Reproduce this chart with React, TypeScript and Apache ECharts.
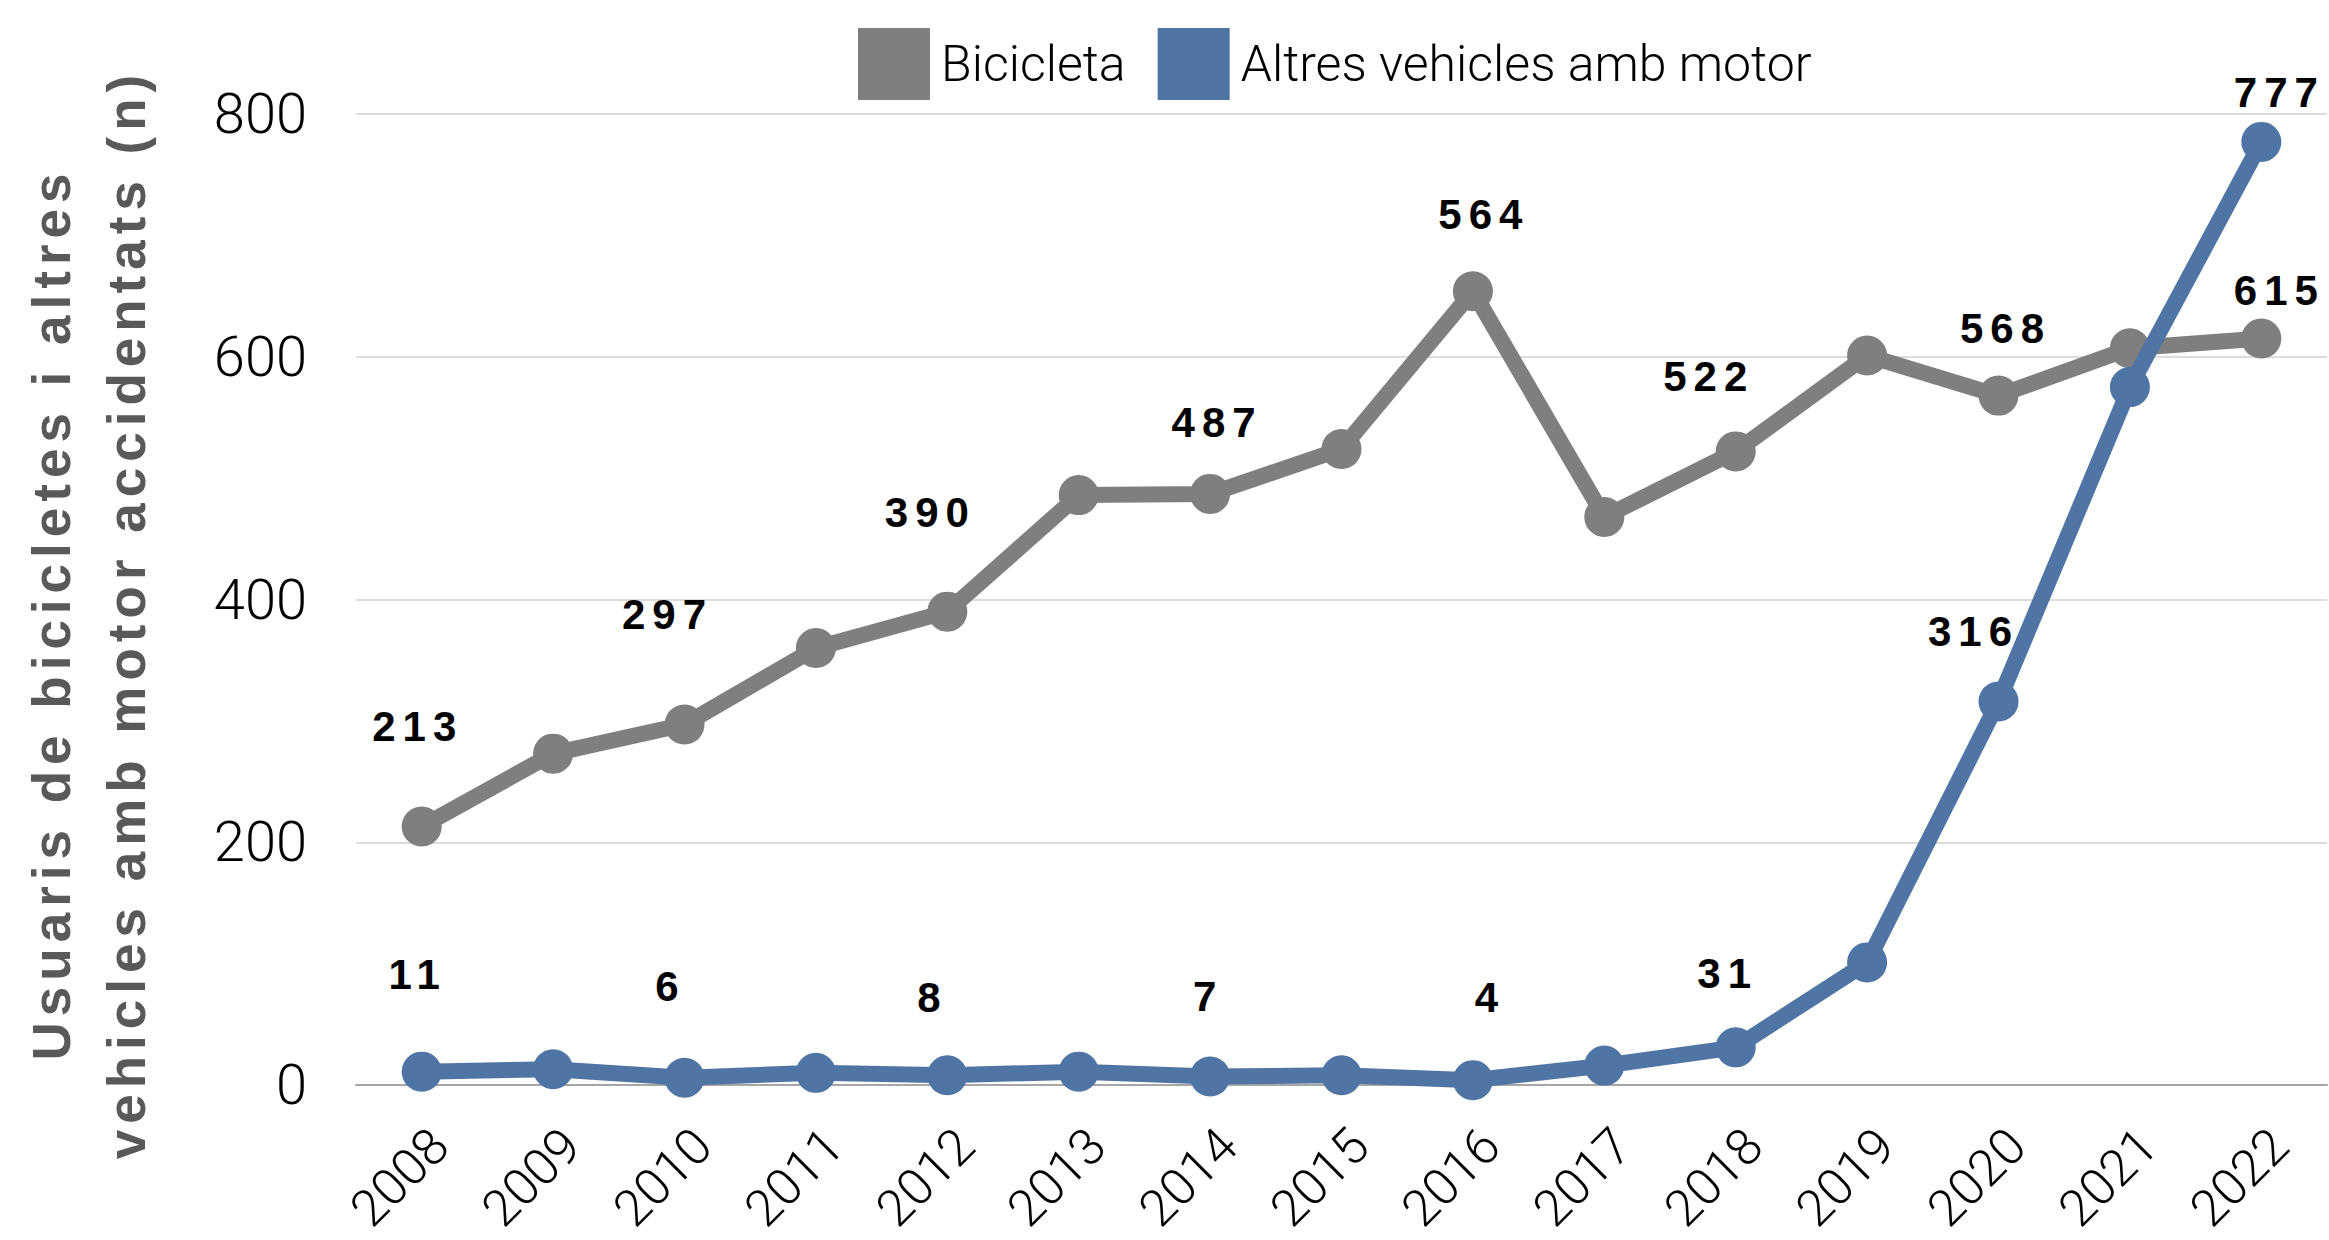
import React, { useEffect, useRef } from "react";
import * as echarts from "echarts";

const years = ["2008", "2009", "2010", "2011", "2012", "2013", "2014", "2015", "2016", "2017", "2018", "2019", "2020", "2021", "2022"];
const bicicleta = [213, 273, 297, 360, 390, 486, 487, 524, 654, 468, 522, 601, 568, 607, 615];
const altres = [11, 13, 6, 10, 8, 11, 7, 8, 4, 16, 31, 101, 316, 575, 777];
const bicicletaLabels = ["213", "", "297", "", "390", "", "487", "", "564", "", "522", "", "568", "", "615"];
const altresLabels = ["11", "", "6", "", "8", "", "7", "", "4", "", "31", "", "316", "", "777"];
const yMin = 0;
const yMax = 800;
const yInterval = 200;

// label placement (style, not data)
const bicOffsets: (number[] | null)[] = [[-4, -100], null, [-17, -110], null, [-17, -99], null, [7, -71], null, [11, -77], null, [-27, -75], null, [7, -67], null, [18, -48]];
const altOffsets: (number[] | null)[] = [[-4, -97], null, [-14, -91], null, [-15, -78], null, [-2, -80], null, [17, -83], null, [-8, -74], null, [-25, -70], null, [18, -49]];

const GRAY = "#7f7f7f";
const BLUE = "#4f75a5";
const THIN = "Roboto, 'Open Sans', sans-serif";
const BOLD = "'Liberation Sans', Arial, sans-serif";

function buildData(values: number[], labels: string[], offsets: (number[] | null)[]) {
  return values.map((v, i) => {
    const txt = labels[i];
    if (!txt) return { value: v, label: { show: false } };
    return {
      value: v,
      label: {
        show: true,
        position: "inside",
        offset: offsets[i] || [0, -60],
        formatter: txt,
        color: "#000",
        fontFamily: BOLD,
        fontWeight: "bold",
        fontSize: 42,
      },
    };
  });
}

export default function App() {
  const ref = useRef<HTMLDivElement>(null);
  useEffect(() => {
    if (!ref.current) return;
    const chart = echarts.init(ref.current, undefined, { renderer: "svg" });
    chart.setOption({
      animation: false,
      backgroundColor: "#fff",
      legend: {
        left: 853,
        top: 23,
        itemWidth: 72,
        itemHeight: 72,
        itemGap: 32,
        icon: "rect",
        textStyle: { fontFamily: THIN, fontWeight: 300, fontSize: 50, color: "#000", padding: [0, 0, 0, 6] },
        data: ["Bicicleta", "Altres vehicles amb motor"],
      },
      grid: { left: 356, right: 2, top: 114, bottom: 155, containLabel: false, outerBoundsMode: "none" },
      xAxis: {
        type: "category",
        data: years,
        boundaryGap: true,
        axisLine: { show: true, lineStyle: { color: "#a6a6a6", width: 2 } },
        axisTick: { show: false },
        axisLabel: {
          rotate: 45,
          margin: 34,
          verticalAlign: "top",
          fontFamily: THIN,
          fontWeight: 300,
          fontSize: 51,
          color: "#000",
        },
      },
      yAxis: {
        type: "value",
        min: yMin,
        max: yMax,
        interval: yInterval,
        axisLine: { show: false },
        axisTick: { show: false },
        splitLine: { show: true, lineStyle: { color: "#d0d0d0", width: 1.5 } },
        axisLabel: { margin: 49, fontFamily: THIN, fontWeight: 300, fontSize: 56, color: "#000" },
      },
      graphic: [
        {
          type: "text",
          x: 89,
          y: 614,
          rotation: Math.PI / 2,
          style: {
            text: "Usuaris de bicicletes i altres\nvehicles amb motor accidentats (n)",
            fill: "#595959",
            font: "bold 53px " + BOLD,
            textAlign: "center",
            textVerticalAlign: "middle",
            lineHeight: 75,
          },
        },
      ],
      series: [
        {
          name: "Bicicleta",
          type: "line",
          data: buildData(bicicleta, bicicletaLabels, bicOffsets),
          symbol: "circle",
          symbolSize: 40,
          lineStyle: { color: GRAY, width: 16 },
          itemStyle: { color: GRAY },
          z: 2,
        },
        {
          name: "Altres vehicles amb motor",
          type: "line",
          data: buildData(altres, altresLabels, altOffsets),
          symbol: "circle",
          symbolSize: 40,
          lineStyle: { color: BLUE, width: 16 },
          itemStyle: { color: BLUE },
          z: 3,
        },
      ],
    });
    return () => chart.dispose();
  }, []);
  return (
    <>
      <style>{`html,body{margin:0;padding:0;overflow:hidden} .chart-root text[style*="bold"]{letter-spacing:7px} .chart-root text[style*="53px"]{letter-spacing:6px}`}</style>
      <div
        ref={ref}
        className="chart-root"
        style={{ position: "fixed", left: 0, top: 0, width: 2329, height: 1240, overflow: "hidden" }}
      />
    </>
  );
}
